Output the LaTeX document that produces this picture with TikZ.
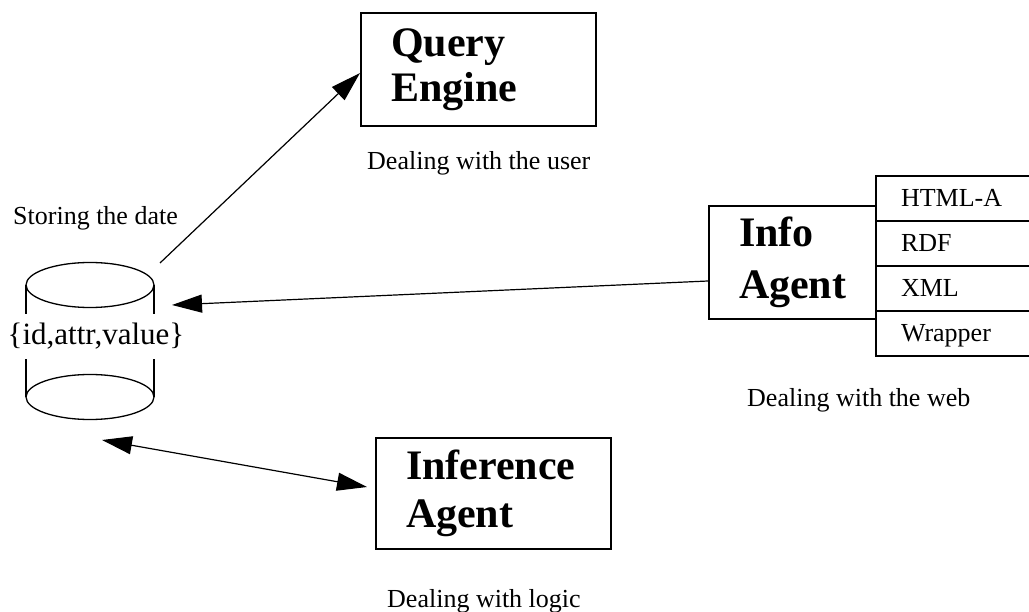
\documentclass[tikz,border=0pt]{standalone}
\usepackage{fontspec}
\setmainfont{Liberation Serif}
\usetikzlibrary{arrows.meta}

\tikzset{
  unitbox/.style={draw, line width=2pt, rectangle, anchor=north west,
    align=left, inner ysep=0pt, inner xsep=30pt,
    font=\bfseries\fontsize{42}{#1}\selectfont},
  cell/.style={draw, line width=2pt, rectangle, anchor=north west,
    minimum width=156pt, minimum height=45pt, text width=106pt,
    inner xsep=25pt, align=left, text height=17pt, text depth=0pt,
    font=\fontsize{26}{30}\selectfont},
  caption/.style={anchor=base west, inner sep=0pt,
    font=\fontsize{26}{30}\selectfont},
  cyl/.style={line width=1.3pt},
  conn/.style={line width=1.2pt, -{Triangle[length=30pt,width=18pt]}},
  bothconn/.style={line width=1.2pt,
    {Triangle[length=30pt,width=18pt]}-{Triangle[length=30pt,width=18pt]}}
}

\begin{document}
\begin{tikzpicture}[x=1pt, y=-1pt]
\useasboundingbox (0,0) rectangle (1029,612);

% data store drawn as a cylinder
\draw[cyl] (26,285) -- (26,397);
\draw[cyl] (154,285) -- (154,397);
\draw[cyl] (90,285) ellipse [x radius=64pt, y radius=22.5pt];
\draw[cyl] (90,397) ellipse [x radius=64pt, y radius=22.5pt];
\node[fill=white, inner xsep=2pt, inner ysep=8pt, text height=22pt,
  text depth=7pt, font=\fontsize{31}{36}\selectfont] (store) at (96,337)
  {\{id,attr,value\}};
\coordinate (dbtop) at (160,263);
\coordinate (dbin) at (172,305);
\coordinate (dbout) at (102,440);

% components
\node[unitbox=45, minimum height=113pt, text width=175pt] (qe) at (360,12)
  {Query\\Engine};
\node[unitbox=52, minimum height=113pt, text width=107pt] (ia) at (708,205)
  {Info\\Agent};
\node[unitbox=48, minimum height=111pt, text width=175pt] (inf) at (375,437)
  {Inference\\Agent};

% formats handled by the info agent
\node[cell] (html) at (875,175) {HTML-A};
\node[cell] (rdf)  at (875,220) {RDF};
\node[cell] (xml)  at (875,265) {XML};
\node[cell] (wrap) at (875,310) {Wrapper};

% captions
\node[caption] (capstore) at (13,225) {Storing the date};
\node[caption] (capqe) at (367,170) {Dealing with the user};
\node[caption] (capia) at (747,407) {Dealing with the web};
\node[caption] (capinf) at (387,607) {Dealing with logic};

% connectors
\draw[conn] (dbtop) -- ([yshift=-3.5pt]qe.west);
\draw[conn] ([yshift=-18.5pt]ia.west) -- (dbin);
\draw[bothconn] (dbout) -- ([xshift=-8pt,yshift=6.5pt]inf.west);
\end{tikzpicture}
\end{document}
